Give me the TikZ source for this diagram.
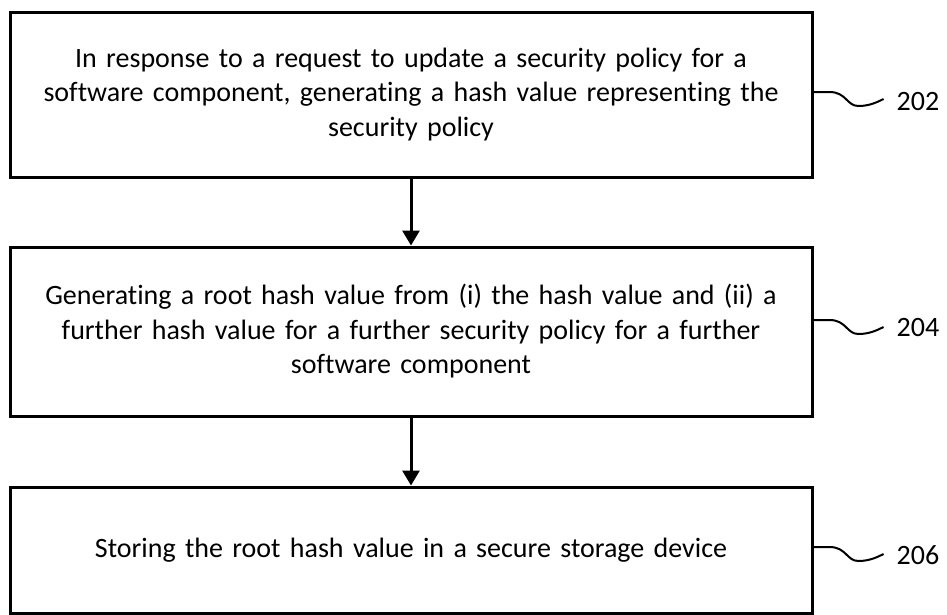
\documentclass[tikz,border=0pt]{standalone}
\usepackage{fontspec}
\setmainfont{Carlito}[Ligatures=NoCommon]
\usetikzlibrary{arrows.meta}
\tikzset{
  stepbox/.style={draw=black, line width=3pt, rectangle, align=center, inner sep=0pt,
    font=\fontsize{28}{34.5}\selectfont, text width=770pt},
  flow/.style={line width=3pt, -{Triangle[width=17pt,length=15pt]}},
  squig/.style={line width=2pt},
  reflabel/.style={font=\fontsize{28}{34.5}\selectfont, anchor=west, inner sep=0pt}
}
\begin{document}
\begin{tikzpicture}[x=1pt,y=-1pt]
\useasboundingbox (0,0) rectangle (947,614);
\node[stepbox, minimum width=802pt, minimum height=165pt] (b1) at (411,94.5)
  {In response to a request to update a security policy for a\\ software component, generating a hash value representing the\\ security policy};
\node[stepbox, minimum width=802pt, minimum height=169pt] (b2) at (411,331.5)
  {Generating a root hash value from (i) the hash value and (ii) a\\ further hash value for a further security policy for a further\\ software component};
\node[stepbox, minimum width=802pt, minimum height=126pt] (b3) at (411,550)
  {Storing the root hash value in a secure storage device};
\draw[flow] (b1.south) -- (b2.north);
\draw[flow] (b2.south) -- (b3.north);
% reference labels
\coordinate (s1) at (b1.east |- 0,92);
\coordinate (s2) at (b2.east |- 0,320);
\coordinate (s3) at (b3.east |- 0,547);
\node[reflabel] (l1) at ([xshift=83pt,yshift=-10pt]s1) {202};
\node[reflabel] (l2) at ([xshift=83pt,yshift=-8pt]s2) {204};
\node[reflabel] (l3) at ([xshift=83pt,yshift=-8pt]s3) {206};
\foreach \s in {s1,s2,s3}{
  \draw[squig] (\s) -- ++(16,0) .. controls +(17,0) and +(-12,0) .. ++(29,14) .. controls +(11,0) and +(-6,3) .. ++(25,-7);
}
\end{tikzpicture}
\end{document}
